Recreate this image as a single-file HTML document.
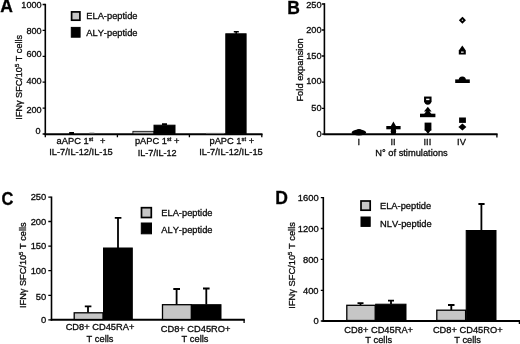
<!DOCTYPE html>
<html>
<head>
<meta charset="utf-8">
<title>Figure</title>
<style>
html,body{margin:0;padding:0;background:#fff;}
body{width:520px;height:344px;overflow:hidden;}
svg{display:block;filter:blur(0.35px);}
text{font-family:"Liberation Sans",sans-serif;fill:#0a0a0a;font-kerning:none;stroke:#0a0a0a;stroke-width:0.3px;}
.t{font-size:9.3px;}
.n{font-size:9.4px;}
.p{font-size:17.5px;font-weight:bold;fill:#000;}
.ax{stroke:#000;stroke-width:1.6;fill:none;}
.tk{stroke:#000;stroke-width:1.3;fill:none;}
.eb{stroke:#000;stroke-width:1.8;fill:none;}
.g{fill:#c6c6c6;stroke:#000;stroke-width:1.3;}
.lg{stroke-width:1.7;}
.k{fill:#000;stroke:#000;stroke-width:1;}
</style>
</head>
<body>
<svg width="520" height="344" viewBox="0 0 520 344">
<rect width="520" height="344" fill="#fff"/>

<!-- ===== Panel A ===== -->
<g id="pa">
<text class="p" x="0.3" y="12">A</text>
<path class="ax" d="M45.3 3.8V134.8"/><path class="ax" style="stroke-width:1.9" d="M44.5 134.3H262.5"/>
<path class="tk" d="M42.6 4.5H45.3M42.6 30.4H45.3M42.6 56.3H45.3M42.6 82.2H45.3M42.6 108.1H45.3M42.6 134H45.3M45.3 134V137.2M117.4 134V137.2M189.4 134V137.2M261.8 134V137.2"/>
<g class="n" text-anchor="end" style="font-size:9.1px">
<text x="41.6" y="8.4">1000</text>
<text x="41.6" y="33.8">800</text>
<text x="41.6" y="56.8">600</text>
<text x="41.6" y="83.8">400</text>
<text x="41.6" y="113">200</text>
<text x="40.5" y="133.7">0</text>
</g>
<text class="t" style="font-size:9.1px" text-anchor="middle" transform="rotate(-90 21.8 77.3)" x="21.8" y="77.3">IFNγ SFC/10<tspan font-size="6" dy="-3">5</tspan><tspan dy="3"> T cells</tspan></text>
<!-- legend -->
<rect class="g lg" x="71.6" y="11.9" width="8.3" height="8.3"/>
<rect class="k" x="71.3" y="27.4" width="8.8" height="9.8"/>
<text class="t" x="86.3" y="19">ELA-peptide</text>
<text class="t" x="86.3" y="36.3">ALY-peptide</text>
<!-- bars -->
<rect fill="#000" x="69.2" y="132" width="4.8" height="2"/>
<rect fill="#555" x="89.4" y="132.7" width="5" height="1.4"/>
<rect x="132.9" y="131.3" width="21.1" height="2.6" fill="#b4b4b4" stroke="#000" stroke-width="0.8"/>
<rect class="k" x="154" y="125.2" width="21" height="8.4"/>
<path class="eb" d="M164.5 125.2V124.2M162 124.2H167"/>
<rect fill="#777" x="206" y="132.9" width="18" height="0.8"/>
<rect class="k" x="225.8" y="33.8" width="20.3" height="99.8"/>
<path class="eb" style="stroke-width:1.5" d="M236.2 34.2V31.7M233.8 31.7H238.8"/>
<!-- labels -->
<g class="t" text-anchor="middle">
<text x="81" y="144.4" xml:space="preserve">aAPC 1<tspan font-size="5.8" dy="-3.3">st</tspan><tspan dy="3.3" dx="4.2"> +</tspan></text>
<text x="81" y="155.2">IL-7/IL-12/IL-15</text>
<text x="157.2" y="144.4" xml:space="preserve">pAPC 1<tspan font-size="5.8" dy="-3.3">st</tspan><tspan dy="3.3"> +</tspan></text>
<text x="157.2" y="156" style="font-size:9.1px">IL-7/IL-12</text>
<text x="231.8" y="144.1" xml:space="preserve">pAPC 1<tspan font-size="5.8" dy="-3.3">st</tspan><tspan dy="3.3"> +</tspan></text>
<text x="231" y="155.4">IL-7/IL-12/IL-15</text>
</g>
</g>

<!-- ===== Panel B ===== -->
<g id="pb">
<text class="p" x="287.2" y="14.1">B</text>
<path class="ax" d="M324.4 3.2V135"/><path class="ax" style="stroke-width:1.9" d="M323.6 134.2H497.6"/>
<path class="tk" d="M321.9 4H324.5M321.9 30H324.5M321.9 56H324.5M321.9 82.1H324.5M321.9 108.3H324.5M321.9 134.2H324.5M496.9 134.2V137.4"/>
<g class="n" text-anchor="end" style="font-size:9.2px">
<text x="321.6" y="7.7">250</text>
<text x="321.6" y="33">200</text>
<text x="321.6" y="58.9">150</text>
<text x="321.6" y="84.4">100</text>
<text x="321.6" y="110.6">50</text>
<text x="321.6" y="137">0</text>
</g>
<text class="t" style="font-size:9.35px" text-anchor="middle" transform="rotate(-90 302.7 69.9)" x="302.7" y="69.9">Fold expansion</text>
<g class="t" text-anchor="middle">
<text x="358.8" y="145">I</text>
<text x="393" y="145">II</text>
<text x="427.4" y="145">III</text>
<text x="461.5" y="145">IV</text>
<text x="411.5" y="155.8">N° of stimulations</text>
</g>
<!-- data I -->
<ellipse cx="358.9" cy="132.5" rx="7.3" ry="2.9" fill="#000"/>
<circle cx="359" cy="132" r="3" fill="#000"/>
<!-- data II -->
<rect x="386.3" y="126" width="14.3" height="3.3" fill="#000"/>
<path d="M393.4 121.6L396.8 127.5H390Z" fill="#000"/>
<circle cx="393.4" cy="131.2" r="2.7" fill="#000"/>
<rect x="391" y="128" width="4.8" height="6.6" fill="#000"/>
<!-- data III -->
<circle cx="427.8" cy="101.3" r="2.2" fill="#999" stroke="#000" stroke-width="2.4"/>
<rect x="425.1" y="97.6" width="5.4" height="3.6" fill="#fff" stroke="#000" stroke-width="2.1"/>
<path d="M427.8 106.8L431.6 111.6H424Z" fill="#000"/>
<path d="M427.8 109.2L431.8 114.5H423.8Z" fill="#000"/>
<rect x="420" y="113.7" width="15.4" height="3.5" fill="#000"/>
<rect x="424.6" y="122.6" width="6.8" height="8" fill="#000"/>
<path d="M424.6 129.5H431.4L428 134Z" fill="#000"/>
<!-- data IV -->
<path d="M462.4 18L464.6 20.2L462.4 22.4L460.2 20.2Z" fill="#e8e8e8" stroke="#000" stroke-width="1.9" stroke-linejoin="miter"/>
<path d="M462.3 45.6L465.8 50.4V54.6H458.8V50.4Z" fill="#000"/>
<rect x="461" y="51.5" width="2.6" height="1.3" fill="#ddd"/>
<rect x="455.2" y="79.4" width="14.6" height="3.6" fill="#000"/>
<path d="M458.7 80.2A3.6 3.6 0 0 1 465.9 80.2Z" fill="#000"/>
<rect x="459.1" y="117.5" width="6.8" height="5.4" fill="#000"/>
<path d="M462.4 123.6L466.4 127.1L462.4 130.6L458.4 127.1Z" fill="#000"/>
</g>

<!-- ===== Panel C ===== -->
<g id="pc">
<text class="p" transform="translate(1.5 204.8) scale(.94 1)">C</text>
<path class="ax" d="M51.5 196.5V320.7"/><path class="ax" style="stroke-width:1.9" d="M50.7 319.8H244.8"/>
<path class="tk" d="M48.3 197.1H51.3M48.3 221.5H51.3M48.3 246.2H51.3M48.3 270.6H51.3M48.3 295.3H51.3M48.3 319.8H51.3M244.1 319.8V323"/>
<g class="n" text-anchor="end">
<text x="46.3" y="200.1">250</text>
<text x="46.3" y="224.7">200</text>
<text x="46.3" y="249.4">150</text>
<text x="46.3" y="274.4">100</text>
<text x="46.3" y="299.5">50</text>
<text x="46.3" y="323.1">0</text>
</g>
<text class="t" style="font-size:9.2px" text-anchor="middle" transform="rotate(-90 26.2 265.2)" x="26.2" y="265.2">IFNγ SFC/10<tspan font-size="6" dy="-3">5</tspan><tspan dy="3"> T cells</tspan></text>
<!-- legend -->
<rect class="g lg" x="141.5" y="207.7" width="9.8" height="9.8"/>
<rect class="k" x="141.3" y="223" width="10.2" height="10.8"/>
<text class="t" x="161.3" y="215.8" font-size="9.3">ELA-peptide</text>
<text class="t" x="161.3" y="233" font-size="9.3">ALY-peptide</text>
<!-- bars -->
<path class="eb" d="M88 312.5V306.3M84.8 306.3H91.4"/>
<rect class="g" x="74.2" y="312.8" width="28.8" height="6.7"/>
<path class="eb" d="M118 248V217.8M114.8 217.8H121.4"/>
<rect class="k" x="103.5" y="248" width="28.8" height="71.5"/>
<path class="eb" d="M176.6 304.5V289M173.3 289H180"/>
<rect class="g" x="162.5" y="304.7" width="28.8" height="14.8"/>
<path class="eb" d="M206.3 304.5V288.5M203 288.5H209.6"/>
<rect class="k" x="191.8" y="304.7" width="29.2" height="14.8"/>
<g class="t" text-anchor="middle">
<text x="100" y="330.2">CD8+ CD45RA+</text>
<text x="100" y="341.5">T cells</text>
<text x="195.6" y="332">CD8+ CD45RO+</text>
<text x="195" y="342">T cells</text>
</g>
</g>

<!-- ===== Panel D ===== -->
<g id="pd">
<text class="p" x="275.3" y="204.4">D</text>
<path class="ax" d="M323.3 197V322"/><path class="ax" style="stroke-width:2" d="M322.5 321H520"/>
<path class="tk" d="M320.8 197.7H323.5M320.8 228.5H323.5M320.8 259.4H323.5M320.8 290.3H323.5M320.8 321H323.5M519.4 321V324"/>
<g class="n" text-anchor="end">
<text x="318.6" y="200.6">1600</text>
<text x="318.6" y="231.8">1200</text>
<text x="318.6" y="262.7">800</text>
<text x="318.6" y="293.7">400</text>
<text x="318.6" y="324.1">0</text>
</g>
<text class="t" text-anchor="middle" transform="rotate(-90 295 265.4)" x="295" y="265.4">IFNγ SFC/10<tspan font-size="6" dy="-3">5</tspan><tspan dy="3"> T cells</tspan></text>
<!-- legend -->
<rect class="g lg" x="361" y="201" width="9.2" height="9.2"/>
<rect class="k" x="361" y="217" width="9.2" height="9.4"/>
<text class="t" x="380" y="209.4">ELA-peptide</text>
<text class="t" x="380" y="226.7">NLV-peptide</text>
<!-- bars -->
<path class="eb" d="M360.5 305V303.2M357.5 303.2H363.5"/>
<rect class="g" x="346.8" y="305.3" width="28.4" height="15.2"/>
<path class="eb" d="M391 304V300.7M388 300.7H394"/>
<rect class="k" x="375.7" y="304.2" width="30.3" height="16.3"/>
<path class="eb" d="M451.3 310V305M448 305H454.5"/>
<rect class="g" x="436.8" y="310.2" width="28.8" height="10.3"/>
<path class="eb" d="M481.4 230.5V204M478.4 204H484.6"/>
<rect class="k" x="466.2" y="230.5" width="29.8" height="90"/>
<g class="t" text-anchor="middle">
<text x="378.7" y="333">CD8+ CD45RA+</text>
<text x="378.7" y="343.2">T cells</text>
<text x="467.8" y="332.6">CD8+ CD45RO+</text>
<text x="467.6" y="342.6">T cells</text>
</g>
</g>
</svg>
</body>
</html>
